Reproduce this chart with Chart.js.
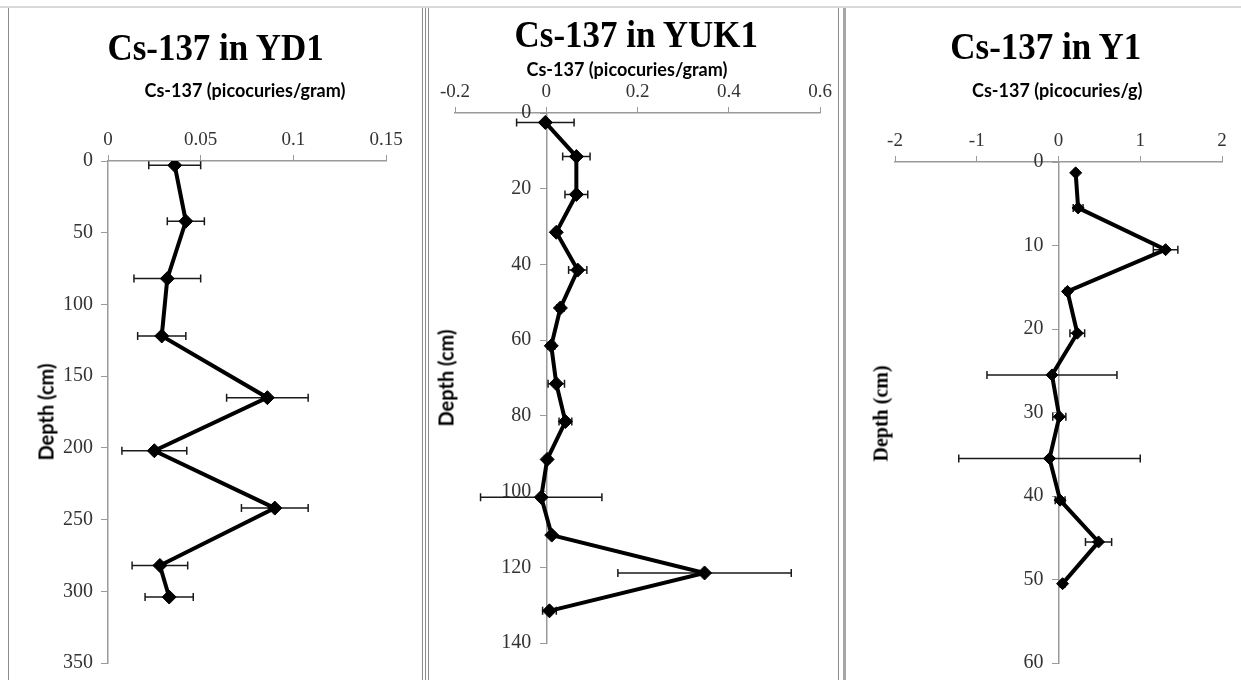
<!DOCTYPE html>
<html>
<head>
<meta charset="utf-8">
<script src="https://cdn.jsdelivr.net/npm/chart.js@4/dist/chart.umd.min.js"></script>
<style>
  body { margin: 0; background: #fff; width: 1241px; height: 680px; overflow: hidden; position: relative; }
  canvas { position: absolute; left: 0; top: 0; }
  .topline { position: absolute; left: 0; top: 6px; width: 1241px; height: 2px; background: #d9d9d9; }
  .panel { position: absolute; top: 8px; height: 700px; border-left: 1px solid #8c8c8c; }
  .lbl { position: absolute; white-space: nowrap; transform-origin: center center; color: #000; }
  .title { font-family: "Liberation Serif", serif; font-weight: bold; font-size: 38px; }
  .sub { font-family: Lato, sans-serif; font-weight: bold; font-size: 18px; }
  .depth { font-family: Lato, sans-serif; font-weight: bold; font-size: 20px; }
  .depth2 { font-family: "Liberation Serif", serif; font-weight: bold; font-size: 20px; }
</style>
</head>
<body>
<div class="topline"></div>
<div class="panel" style="left:8px;"></div>
<div class="panel" style="left:422px;"></div>
<div class="panel" style="left:425px;"></div>
<div class="panel" style="left:428px;"></div>
<div class="panel" style="left:838px;"></div>
<div class="panel" style="left:843px; border-left:3px solid #a6a6a6;"></div>

<canvas id="ydChart" width="1241" height="680"></canvas>
<canvas id="yukChart" width="1241" height="680"></canvas>
<canvas id="y1Chart" width="1241" height="680"></canvas>

<div class="lbl title" id="t1">Cs-137 in YD1</div>
<div class="lbl title" id="t2">Cs-137 in YUK1</div>
<div class="lbl title" id="t3">Cs-137 in Y1</div>
<div class="lbl sub" id="s1">Cs-137 (picocuries/gram)</div>
<div class="lbl sub" id="s2">Cs-137 (picocuries/gram)</div>
<div class="lbl sub" id="s3">Cs-137 (picocuries/g)</div>
<div class="lbl depth" id="d1">Depth (cm)</div>
<div class="lbl depth" id="d2">Depth (cm)</div>
<div class="lbl depth2" id="d3">Depth (cm)</div>

<script>
// ---- data: YD1
var ydDepth = [3, 42, 82, 122, 165, 202, 242, 282, 304];
var ydValue = [0.036, 0.042, 0.032, 0.029, 0.086, 0.025, 0.090, 0.028, 0.033];
var ydError = [0.014, 0.010, 0.018, 0.013, 0.022, 0.0175, 0.018, 0.015, 0.013];
var ydTicksX = [0, 0.05, 0.1, 0.15];
var ydTicksY = [0, 50, 100, 150, 200, 250, 300, 350];

// ---- data: YUK1
var yukDepth = [2.5, 11.5, 21.5, 31.5, 41.5, 51.5, 61.5, 71.5, 81.5, 91.5, 101.5, 111.5, 121.5, 131.5];
var yukValue = [-0.002, 0.066, 0.066, 0.022, 0.069, 0.031, 0.011, 0.022, 0.042, 0.002, -0.011, 0.012, 0.347, 0.007];
var yukError = [0.063, 0.030, 0.025, 0.006, 0.020, 0.008, 0.008, 0.018, 0.014, 0.006, 0.133, 0.006, 0.19, 0.015];
var yukTicksX = [-0.2, 0, 0.2, 0.4, 0.6];
var yukTicksY = [0, 20, 40, 60, 80, 100, 120, 140];

// ---- data: Y1
var y1Depth = [1.3, 5.5, 10.5, 15.5, 20.5, 25.5, 30.5, 35.5, 40.5, 45.5, 50.5];
var y1Value = [0.21, 0.24, 1.31, 0.11, 0.23, -0.08, 0.01, -0.11, 0.02, 0.49, 0.05];
var y1Error = [0.02, 0.06, 0.15, 0.03, 0.09, 0.795, 0.08, 1.11, 0.06, 0.16, 0.03];
var y1TicksX = [-2, -1, 0, 1, 2];
var y1TicksY = [0, 10, 20, 30, 40, 50, 60];

// horizontal error bars with caps, drawn through the chart scales
var errorBars = {
    id: 'errorBars',
    beforeDatasetsDraw: function(chart, args, opts) {
        var ctx = chart.ctx, xs = chart.scales.x, ys = chart.scales.y;
        var pts = chart.data.datasets[0].data;
        ctx.save();
        ctx.strokeStyle = '#1a1a1a';
        ctx.lineWidth = 1.5;
        for (var i = 0; i < pts.length; i++) {
            var e = opts.err[i];
            var y = ys.getPixelForValue(pts[i].y);
            var x1 = xs.getPixelForValue(pts[i].x - e);
            var x2 = xs.getPixelForValue(pts[i].x + e);
            ctx.beginPath();
            ctx.moveTo(x1, y); ctx.lineTo(x2, y);
            ctx.moveTo(x1, y - 4); ctx.lineTo(x1, y + 4);
            ctx.moveTo(x2, y - 4); ctx.lineTo(x2, y + 4);
            ctx.stroke();
        }
        ctx.restore();
    }
};

// y axis sits at x = 0, chart.js puts its labels right on the line: push them left
var shiftLabels = {
    id: 'shiftLabels',
    beforeDraw: function(chart) {
        var items = chart.scales.y.getLabelItems();
        items.forEach(function(it) {
            if (!it._moved) { it.options.translation[0] -= 15; it._moved = true; }
        });
    }
};

function fixTicks(list) {
    return function(scale) {
        scale.ticks = list.map(function(v) { return { value: v }; });
    };
}

// area: chart area in page pixels [left, top, right, bottom]
function depthChart(id, depth, value, err, ticksX, ticksY, area, radius) {
    var pts = depth.map(function(d, i) { return { x: value[i], y: d }; });
    return new Chart(document.getElementById(id), {
        type: 'scatter',
        data: {
            datasets: [{
                data: pts,
                showLine: true,
                borderColor: '#000',
                borderWidth: 4,
                backgroundColor: '#000',
                pointStyle: 'rectRot',
                pointRadius: radius,
                pointBorderWidth: 1
            }]
        },
        options: {
            responsive: false,
            animation: false,
            devicePixelRatio: 1,
            layout: {
                padding: { left: area[0], top: area[1] - 40, right: 1241 - area[2], bottom: 680 - area[3] }
            },
            plugins: {
                legend: { display: false },
                tooltip: { enabled: false },
                errorBars: { err: err }
            },
            scales: {
                x: {
                    type: 'linear',
                    position: 'top',
                    min: ticksX[0],
                    max: ticksX[ticksX.length - 1],
                    afterBuildTicks: fixTicks(ticksX),
                    afterFit: function(s) { s.height = 40; },
                    grid: { drawOnChartArea: false, color: '#9a9a9a', tickLength: 6 },
                    border: { color: '#9a9a9a', width: 1.5 },
                    ticks: {
                        color: '#333', padding: 4, maxRotation: 0,
                        font: { family: 'Liberation Serif', size: 19 },
                        callback: function(v) { return String(v); }
                    }
                },
                y: {
                    type: 'linear',
                    position: { x: 0 },
                    reverse: true,
                    min: ticksY[0],
                    max: ticksY[ticksY.length - 1],
                    afterBuildTicks: fixTicks(ticksY),
                    grid: { drawOnChartArea: false, color: '#9a9a9a', tickLength: 6 },
                    border: { color: '#9a9a9a', width: 1.5 },
                    ticks: {
                        color: '#333',
                        font: { family: 'Liberation Serif', size: 20 },
                        callback: function(v) { return String(v); }
                    }
                }
            }
        },
        plugins: [errorBars, shiftLabels]
    });
}

depthChart('ydChart', ydDepth, ydValue, ydError, ydTicksX, ydTicksY, [108, 161, 386, 663], 7);
depthChart('yukChart', yukDepth, yukValue, yukError, yukTicksX, yukTicksY, [455, 113, 820, 643], 7);
depthChart('y1Chart', y1Depth, y1Value, y1Error, y1TicksX, y1TicksY, [895, 162, 1222, 663], 6);

// place text labels centred on given page points
function place(id, cx, cy, tf) {
    var el = document.getElementById(id);
    el.style.left = (cx - el.offsetWidth / 2) + 'px';
    el.style.top = (cy - el.offsetHeight / 2) + 'px';
    if (tf) el.style.transform = tf;
}
place('t1', 215, 47, 'scaleX(0.92)');
place('t2', 636, 34, 'scaleX(0.92)');
place('t3', 1046, 46, 'scaleX(0.92)');
place('s1', 245, 90);
place('s2', 627, 69);
place('s3', 1057, 90);
place('d1', 45, 412, 'rotate(-90deg)');
place('d2', 445, 378, 'rotate(-90deg)');
place('d3', 881, 413, 'rotate(-90deg)');
</script>
</body>
</html>
